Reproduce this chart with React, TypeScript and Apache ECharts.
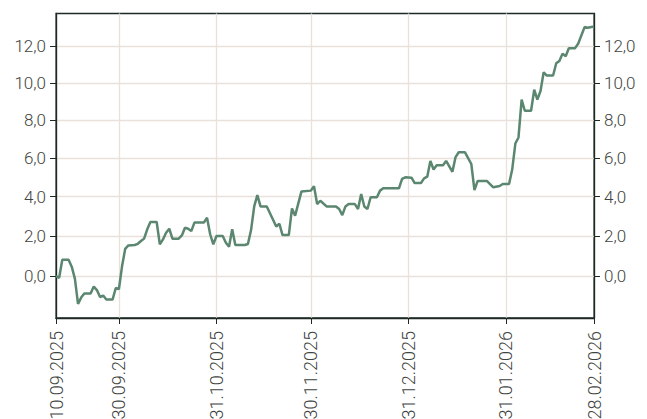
import React, { useEffect, useRef } from "react";
import * as echarts from "echarts";

// Vertex dates (day offset from 10.09.2025) and cumulative performance in %
const startDate = [2025, 8, 10];
const dayOffsets = [
  0, 1, 2, 4, 5, 6, 7, 8, 9, 11, 12, 13, 14, 15, 16, 18, 19, 20, 21, 22, 23, 25, 26, 27, 28,
  29, 30, 32, 33, 34, 35, 36, 37, 39, 40, 41, 42, 43, 44, 47, 48, 49, 50, 51, 53, 54, 55, 56,
  57, 60, 61, 62, 63, 64, 65, 67, 70, 71, 72, 74, 75, 76, 78, 81, 82, 83, 84, 86, 89, 90, 91,
  92, 93, 95, 96, 97, 98, 99, 100, 102, 103, 104, 109, 110, 111, 113, 114, 116, 117, 118, 119,
  120, 121, 123, 124, 125, 126, 127, 128, 130, 132, 133, 134, 137, 139, 141, 142, 144, 145,
  146, 147, 148, 149, 151, 152, 153, 154, 155, 156, 158, 159, 160, 161, 162, 163, 165, 166,
  168, 169, 171,
];
const performance = [
  0.0, -0.08, 0.81, 0.81, 0.47, -0.12, -1.36, -1.05, -0.85, -0.85, -0.51, -0.68, -1.02, -0.95,
  -1.14, -1.14, -0.58, -0.63, 0.5, 1.36, 1.53, 1.55, 1.61, 1.75, 1.87,
  2.34, 2.71, 2.71, 1.58, 1.83, 2.17, 2.37, 1.87, 1.87, 2.03, 2.42, 2.37, 2.25, 2.68, 2.68, 2.93,
  2.09, 1.58, 2.0, 2.0, 1.66, 1.46, 2.34,
  1.55, 1.55, 1.6, 2.3, 3.5, 4.08, 3.5, 3.5, 2.48, 2.62, 2.05, 2.05, 3.4, 3.03, 4.26, 4.31, 4.54,
  3.62, 3.79, 3.5, 3.5, 3.37, 3.06,
  3.5, 3.62, 3.62, 3.37, 4.14, 3.5, 3.37, 3.97, 3.97, 4.31, 4.43, 4.43, 4.92, 5.0, 4.98, 4.7,
  4.7, 4.94, 5.03, 5.85,
  5.4, 5.62, 5.62, 5.85, 5.57, 5.28, 6.05, 6.3, 6.3, 5.69, 4.34, 4.8, 4.8, 4.48, 4.55, 4.65,
  4.65, 5.4,
  6.76, 7.08, 9.1, 8.5, 8.5, 9.63, 9.1, 9.56, 10.58, 10.4, 10.4, 11.07, 11.2, 11.6, 11.46, 11.9,
  11.9, 12.16,
  13.07, 13.03, 13.1,
];
const xTickDates = [
  [2025, 8, 10],
  [2025, 8, 30],
  [2025, 9, 31],
  [2025, 10, 30],
  [2025, 11, 31],
  [2026, 0, 31],
  [2026, 1, 28],
];
const yTickValues = [0, 2, 4, 6, 8, 10, 12];
const yMinPct = -2.04;
const yMaxPct = 13.83;

const DAY = 86400000;
const toLog = (p: number) => Math.log(1 + p / 100);
const fromLog = (v: number) => (Math.exp(v) - 1) * 100;
const startTs = Date.UTC(startDate[0], startDate[1], startDate[2]);
const toOffset = (d: number[]) =>
  Math.round((Date.UTC(d[0], d[1], d[2]) - startTs) / DAY);
const pad = (n: number) => (n < 10 ? "0" + n : "" + n);
const fmtOffset = (off: number) => {
  const d = new Date(startTs + Math.round(off) * DAY);
  return pad(d.getUTCDate()) + "." + pad(d.getUTCMonth() + 1) + "." + d.getUTCFullYear();
};

export default function App() {
  const ref = useRef<HTMLDivElement>(null);
  useEffect(() => {
    document.body.style.margin = "0";
    document.body.style.overflow = "hidden";
    document.documentElement.style.overflow = "hidden";
    if (!ref.current) return;
    const chart = echarts.init(ref.current, null, { renderer: "svg" });
    const data = dayOffsets.map((d, i) => [d, toLog(performance[i])]);
    const xTicks = xTickDates.map(toOffset);
    const yTicks = yTickValues.map(toLog);
    const font = "Roboto, 'Noto Sans', sans-serif";
    const textColor = "#3e4440";
    const axisColor = "#1c2a23";
    const gridColor = "#e9e1da";
    const yAxisBase = (pos: "left" | "right", split: boolean) => ({
      type: "value",
      position: pos,
      min: toLog(yMinPct),
      max: toLog(yMaxPct),
      axisLine: { show: true, onZero: false, lineStyle: { color: axisColor, width: 1.3 } },
      axisTick: {
        show: true,
        length: 6,
        customValues: yTicks,
        lineStyle: { color: axisColor, width: 1 },
      },
      axisLabel: {
        customValues: yTicks,
        margin: 10,
        fontSize: 17,
        fontWeight: 300,
        fontFamily: font,
        color: textColor,
        formatter: (v: number) => fromLog(v).toFixed(1).replace(".", ","),
      },
      splitLine: { show: split, lineStyle: { color: gridColor, width: 1.3 } },
    });
    chart.setOption({
      animation: false,
      grid: {
        left: 56,
        right: 53,
        top: 13.5,
        bottom: 101,
        show: true,
        borderColor: axisColor,
        borderWidth: 1.3,
        containLabel: false,
        outerBoundsMode: "none",
      },
      xAxis: {
        type: "value",
        min: 0,
        max: xTicks[xTicks.length - 1],
        axisLine: { show: true, onZero: false, lineStyle: { color: axisColor, width: 1.3 } },
        axisTick: {
          show: true,
          length: 6,
          customValues: xTicks,
          lineStyle: { color: axisColor, width: 1 },
        },
        axisLabel: {
          customValues: xTicks,
          rotate: 90,
          margin: 13,
          fontSize: 18,
          fontWeight: 300,
          fontFamily: font,
          color: textColor,
          hideOverlap: false,
          formatter: (v: number) => fmtOffset(v),
        },
        splitLine: { show: true, lineStyle: { color: gridColor, width: 1.3 } },
      },
      yAxis: [yAxisBase("left", true), yAxisBase("right", false)],
      series: [
        {
          type: "line",
          data,
          yAxisIndex: 0,
          showSymbol: false,
          symbol: "none",
          lineStyle: { color: "#5b8670", width: 2.5 },
        },
      ],
    });
    return () => chart.dispose();
  }, []);
  return (
    <div style={{ width: 647, height: 419, overflow: "hidden", position: "relative" }}>
      <div ref={ref} style={{ width: 647, height: 419 }} />
    </div>
  );
}
